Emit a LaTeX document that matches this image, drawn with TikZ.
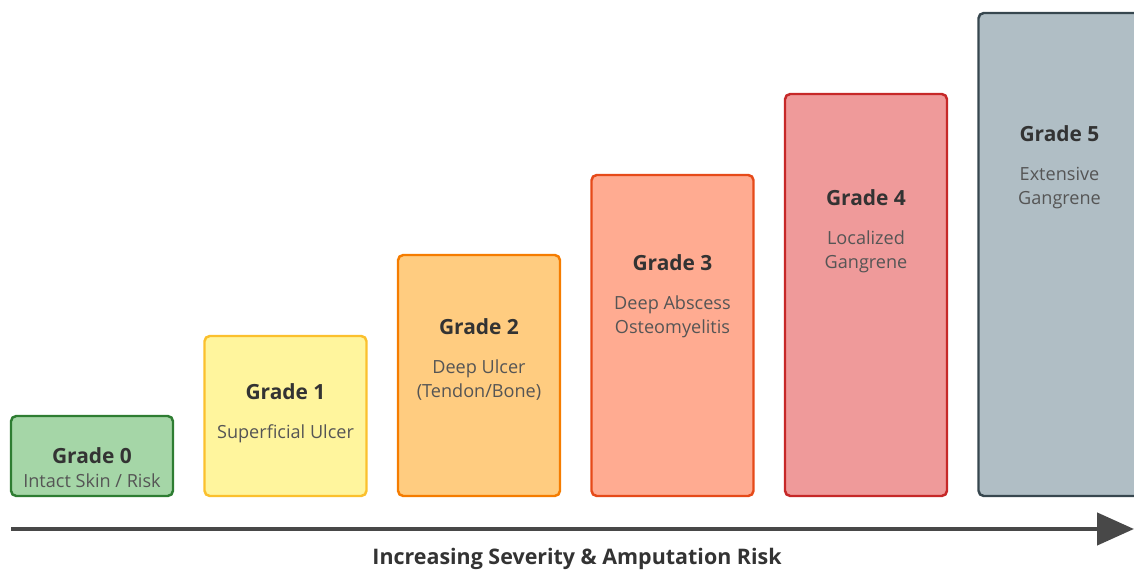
\documentclass[tikz,border=0pt]{standalone}
\usepackage{fontspec}
\setmainfont{Open Sans}
\usepackage{xcolor}
\usepackage{tikz}
\usetikzlibrary{positioning,arrows.meta}

\definecolor{gzfill}{HTML}{A5D6A7}\definecolor{gzline}{HTML}{2E7D32}
\definecolor{gafill}{HTML}{FFF59D}\definecolor{galine}{HTML}{FBC02D}
\definecolor{gbfill}{HTML}{FFCC80}\definecolor{gbline}{HTML}{F57C00}
\definecolor{gcfill}{HTML}{FFAB91}\definecolor{gcline}{HTML}{E64A19}
\definecolor{gdfill}{HTML}{EF9A9A}\definecolor{gdline}{HTML}{C62828}
\definecolor{gefill}{HTML}{B0BEC5}\definecolor{geline}{HTML}{37474F}
\definecolor{titletext}{HTML}{333333}
\definecolor{desctext}{HTML}{555555}
\definecolor{axisgray}{HTML}{484848}

\begin{document}
\begin{tikzpicture}[
  grade/.style={draw, line width=1.4pt, rounded corners=3pt, minimum width=3.24cm, anchor=south west, inner sep=0pt, outer sep=0pt},
  title/.style={inner sep=0pt, text=titletext, font=\bfseries\fontsize{11.9}{14}\selectfont},
  desc/.style={inner sep=0pt, align=center, text=desctext, font=\fontsize{10.3}{13.6}\selectfont},
  axis/.style={-{Triangle[length=0.74cm, width=0.64cm]}, line width=2.6pt, axisgray},
  axislabel/.style={inner sep=0pt, text=titletext, font=\bfseries\fontsize{12.2}{14}\selectfont},
  ]
  \path[use as bounding box] (0,0) rectangle (22.68,11.46);
  \clip (0,0) rectangle (22.68,11.46);

  % severity steps, bottoms aligned
  \node[grade, minimum height=1.6cm, fill=gzfill, draw=gzline] (g0) at (0.22,1.54) {};
  \node[grade, minimum height=3.2cm, fill=gafill, draw=galine, right=0.63cm of g0.south east, anchor=south west] (g1) {};
  \node[grade, minimum height=4.82cm, fill=gbfill, draw=gbline, right=0.63cm of g1.south east, anchor=south west] (g2) {};
  \node[grade, minimum height=6.42cm, fill=gcfill, draw=gcline, right=0.63cm of g2.south east, anchor=south west] (g3) {};
  \node[grade, minimum height=8.04cm, fill=gdfill, draw=gdline, right=0.63cm of g3.south east, anchor=south west] (g4) {};
  \node[grade, minimum height=9.66cm, fill=gefill, draw=geline, right=0.63cm of g4.south east, anchor=south west] (g5) {};

  \node[title, below=0.62cm of g0.north] (g0t) {Grade 0};
  \node[desc, below=0.19cm of g0t] (g0d) {Intact Skin / Risk};
  \node[title, below=0.94cm of g1.north] (g1t) {Grade 1};
  \node[desc, below=0.5cm of g1t] (g1d) {Superficial Ulcer};
  \node[title, below=1.26cm of g2.north] (g2t) {Grade 2};
  \node[desc, below=0.5cm of g2t] (g2d) {Deep Ulcer\\(Tendon/Bone)};
  \node[title, below=1.58cm of g3.north] (g3t) {Grade 3};
  \node[desc, below=0.5cm of g3t] (g3d) {Deep Abscess\\Osteomyelitis};
  \node[title, below=1.9cm of g4.north] (g4t) {Grade 4};
  \node[desc, below=0.5cm of g4t] (g4d) {Localized\\Gangrene};
  \node[title, below=2.24cm of g5.north] (g5t) {Grade 5};
  \node[desc, below=0.5cm of g5t] (g5d) {Extensive\\Gangrene};

  % severity axis
  \coordinate (axs) at (0.22,0.88);
  \coordinate (axe) at (22.68,0.88);
  \draw[axis] (axs) -- (axe);
  \node[axislabel] (axl) at (11.54,0.28) {Increasing Severity \& Amputation Risk};
\end{tikzpicture}
\end{document}
